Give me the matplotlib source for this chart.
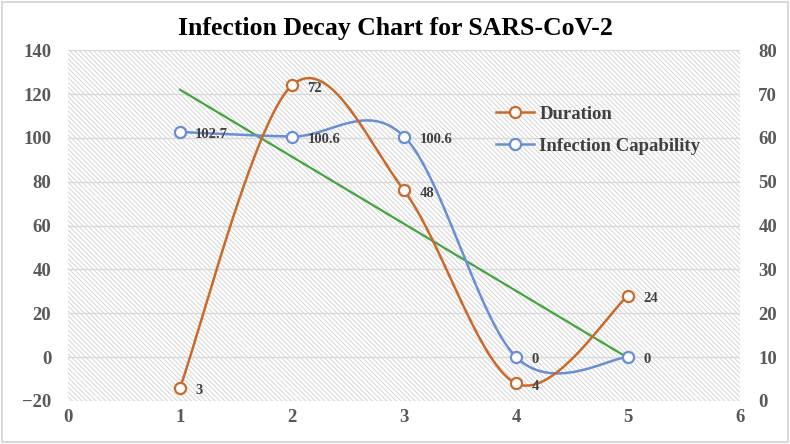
import numpy as np
import matplotlib.pyplot as plt
from matplotlib.patches import Rectangle

# chart data
x = [1, 2, 3, 4, 5]
duration = [3, 72, 48, 4, 24]
capability = [102.7, 100.6, 100.6, 0, 0]
dur_labels = ['3', '72', '48', '4', '24']
cap_labels = ['102.7', '100.6', '100.6', '0', '0']

plt.rcParams['font.family'] = ['Liberation Serif', 'DejaVu Serif']
plt.rcParams['font.weight'] = 'bold'
plt.rcParams['hatch.color'] = '#cfcfcf'
plt.rcParams['hatch.linewidth'] = 0.6

orange = '#C86A2C'
blue = '#6A8ED6'
green = '#45A340'
txt = '#595959'


def smooth(xs, ys, xlim, ylim, w=672.0, h=351.0, n=40):
    # Excel-style smoothed line: Catmull-Rom bezier in screen space
    px = (np.asarray(xs, float) - xlim[0]) / (xlim[1] - xlim[0]) * w
    py = (np.asarray(ys, float) - ylim[0]) / (ylim[1] - ylim[0]) * h
    P = np.column_stack([px, py])
    out = []
    for i in range(len(P) - 1):
        p0 = P[i - 1] if i > 0 else P[i]
        p1, p2 = P[i], P[i + 1]
        p3 = P[i + 2] if i + 2 < len(P) else P[i + 1]
        c1 = p1 + (p2 - p0) / 6
        c2 = p2 - (p3 - p1) / 6
        t = np.linspace(0, 1, n)[:, None]
        seg = ((1 - t) ** 3) * p1 + 3 * ((1 - t) ** 2) * t * c1 + 3 * (1 - t) * t ** 2 * c2 + t ** 3 * p2
        out.append(seg if i == 0 else seg[1:])
    S = np.vstack(out)
    sx = S[:, 0] / w * (xlim[1] - xlim[0]) + xlim[0]
    sy = S[:, 1] / h * (ylim[1] - ylim[0]) + ylim[0]
    return sx, sy


fig = plt.figure(figsize=(7.9, 4.44), dpi=100)
fig.patches.append(Rectangle((0.003, 0.004), 0.994, 0.992, transform=fig.transFigure,
                             fill=False, edgecolor='#d9d9d9', linewidth=1.5))
ax = fig.add_axes([0.086, 0.097, 0.851, 0.79])
ax2 = ax.twinx()

xlim = (0, 6)
ylim1 = (-20, 140)
ylim2 = (0, 80)

ax.set_xlim(*xlim)
ax.set_ylim(*ylim1)
ax2.set_ylim(*ylim2)
ax.set_xticks(range(0, 7))
ax.set_yticks(range(-20, 141, 20))
ax2.set_yticks(range(0, 81, 10))

ax.patch.set_facecolor('white')
ax.patch.set_hatch('\\\\\\\\\\\\\\')
ax.patch.set_edgecolor('#cfcfcf')
ax.patch.set_linewidth(0)
ax.grid(axis='y', color='#d9d9d9', linewidth=1.0)
ax.set_axisbelow(True)

for a in (ax, ax2):
    for s in a.spines.values():
        s.set_visible(False)
    a.tick_params(length=0, labelsize=13.5, labelcolor=txt)
ax.tick_params(axis='y', pad=12)
ax2.tick_params(axis='y', pad=13)
ax.tick_params(axis='x', pad=6)

# trendline (linear fit of infection capability)
k, b = np.polyfit(x, capability, 1)
tx = np.array([x[0], x[-1]])
ax.plot(tx, k * tx + b, color=green, linewidth=1.6, zorder=3)

# infection capability (primary axis)
sx, sy = smooth(x, capability, xlim, ylim1)
ax.plot(sx, sy, color=blue, linewidth=1.8, zorder=4)
ax.plot(x, capability, linestyle='none', marker='o', markersize=8,
        markerfacecolor='white', markeredgecolor=blue, markeredgewidth=1.6, zorder=5)
for xi, yi, lb in zip(x, capability, cap_labels):
    ax.annotate(lb, (xi, yi), xytext=(11, -2), textcoords='offset points',
                fontsize=10.5, color='#404040', va='center', ha='left', zorder=6)

# duration (secondary axis)
sx, sy = smooth(x, duration, xlim, ylim2)
ax2.plot(sx, sy, color=orange, linewidth=1.8, zorder=4)
ax2.plot(x, duration, linestyle='none', marker='o', markersize=8,
         markerfacecolor='white', markeredgecolor=orange, markeredgewidth=1.6, zorder=5)
for xi, yi, lb in zip(x, duration, dur_labels):
    ax2.annotate(lb, (xi, yi), xytext=(11, -2), textcoords='offset points',
                 fontsize=10.5, color='#404040', va='center', ha='left', zorder=6)

# legend
h1 = plt.Line2D([], [], color=orange, linewidth=1.8, marker='o', markersize=8,
                markerfacecolor='white', markeredgecolor=orange, markeredgewidth=1.6)
h2 = plt.Line2D([], [], color=blue, linewidth=1.8, marker='o', markersize=8,
                markerfacecolor='white', markeredgecolor=blue, markeredgewidth=1.6)
leg = ax2.legend([h1, h2], ['Duration', 'Infection Capability'], loc='upper left',
                 bbox_to_anchor=(0.612, 0.89), frameon=False, fontsize=13.5,
                 labelcolor='#404040', handlelength=2.0, handletextpad=0.3, labelspacing=0.8)

fig.suptitle('Infection Decay Chart for SARS-CoV-2', y=0.935, va='center', fontsize=18.5,
             fontweight='bold', color='black')

fig.savefig('out.png', dpi=100)
